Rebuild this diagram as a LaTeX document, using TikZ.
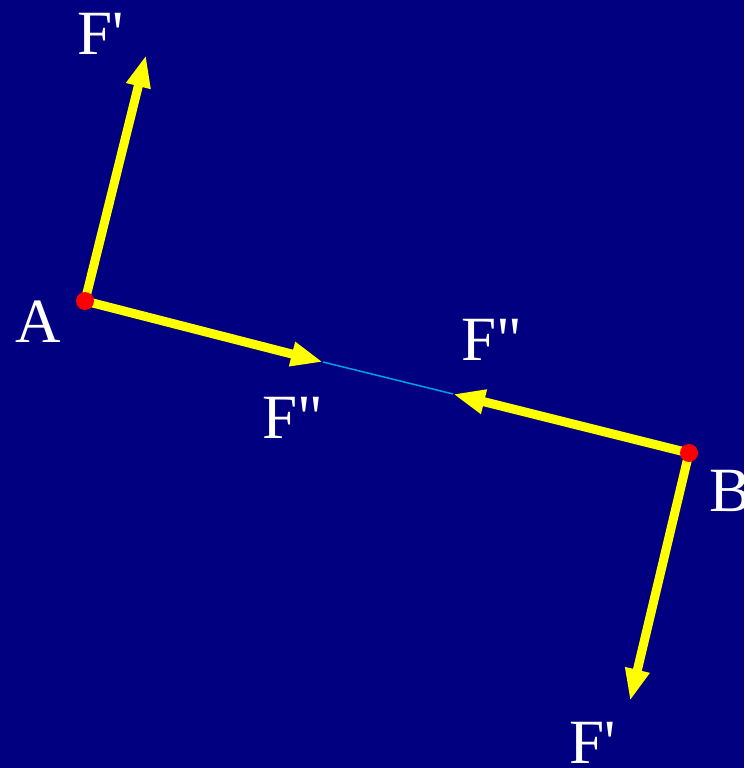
\documentclass[tikz,border=0pt]{standalone}
\usepackage{fontspec}
\newfontfamily\lsf{Liberation Serif}
\usetikzlibrary{arrows.meta}
\definecolor{navy}{RGB}{0,0,128}
\definecolor{ylw}{RGB}{255,255,0}
\definecolor{lineblue}{RGB}{0,160,230}
\tikzset{
  force/.style={draw=ylw, line width=9pt, -{Triangle[length=32pt,width=23pt]}},
  lbl/.style={text=white, font=\lsf\fontsize{63}{63}\selectfont, inner sep=0pt, anchor=base west},
  pt/.style={circle, fill=red, minimum size=18pt, inner sep=0pt}
}
\begin{document}
\begin{tikzpicture}[x=1pt,y=-1pt]
\fill[navy] (0,0) rectangle (744,768);
\useasboundingbox (0,0) rectangle (744,768);
\coordinate (A) at (85,301);
\coordinate (B) at (689,453);
\coordinate (tA1) at (146,55);
\coordinate (tA2) at (323,362);
\coordinate (tB2) at (453,394);
\coordinate (tB1) at (630,701);
\draw[lineblue, line width=1.5pt] (tA2) -- (tB2);
\draw[force] (A) -- (tA1);
\draw[force] (A) -- (tA2);
\draw[force] (B) -- (tB2);
\draw[force] (B) -- (tB1);
\node[pt] (pA) at (A) {};
\node[pt] (pB) at (B) {};
\node[lbl] (lA) at (15,342) {A};
\node[lbl] (lB) at (709,511) {B};
\node[lbl] (lF1) at (77,55) {F'};
\node[lbl] (lF2) at (569,763) {F'};
\node[lbl] (lF3) at (461,360) {F"};
\node[lbl] (lF4) at (262,438) {F"};
\end{tikzpicture}
\end{document}
